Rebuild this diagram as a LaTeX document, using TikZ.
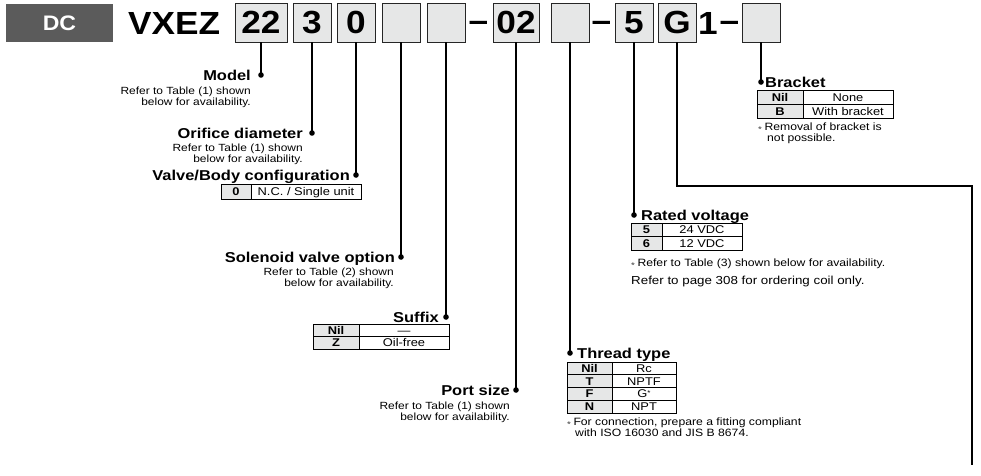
\documentclass[tikz,border=0pt]{standalone}
\usepackage{fontspec}
\setmainfont{Liberation Sans}[FakeStretch=1.15]
\newfontfamily\hdrfam{Liberation Sans}[FakeStretch=1.1]
\definecolor{cellgray}{HTML}{E6E7E7}
\definecolor{dcgray}{HTML}{5B5B5B}
\newcommand\hdrfont{\hdrfam\fontsize{32}{32}\selectfont\bfseries}
\newcommand\fnast{{\fontsize{8.5}{8.5}\selectfont\raisebox{-2.2pt}{\color{black!75}*}}\hspace{2.5pt}}
\newcommand\tabrow[8]{%
  \path[tline,fill=cellgray] (#2,#5) rectangle (#3,#6);
  \path[tline,fill=white] (#3,#5) rectangle (#4,#6);
  \node[keyt] (#1k) at ({(#2+#3)/2},{(#5+#6)/2}) {#7};
  \node[valt] (#1v) at ({(#3+#4)/2},{(#5+#6)/2}) {#8};
}
\begin{document}
\begin{tikzpicture}[x=1pt,y=-1pt,
  codebox/.style={draw=black!85, line width=0.9pt, fill=cellgray, minimum width=38pt,
    minimum height=39pt, inner sep=0pt, text height=22.9pt, text depth=0pt, font=\hdrfont},
  hdrtxt/.style={inner sep=0pt, font=\hdrfont},
  conn/.style={line width=1.2pt, draw=black},
  dotn/.style={circle, fill=black, inner sep=0pt, minimum size=5.6pt},
  lbl/.style={inner sep=0pt, font=\fontsize{14.3}{16}\selectfont\bfseries},
  subt/.style={inner sep=0pt, font=\fontsize{10.4}{11}\selectfont},
  fnt/.style={inner sep=0pt, font=\fontsize{10.6}{11}\selectfont},
  reft/.style={inner sep=0pt, font=\fontsize{11.6}{12}\selectfont},
  tline/.style={draw=black, line width=0.8pt},
  keyt/.style={inner sep=0pt, text height=8pt, text depth=0pt, font=\fontsize{11.2}{11}\selectfont\bfseries},
  valt/.style={inner sep=0pt, text height=8pt, text depth=0pt, font=\fontsize{11.2}{11}\selectfont}
]
\useasboundingbox (0,0) rectangle (981,475);

% ---------- header ----------
\node[fill=dcgray, minimum width=107pt, minimum height=38pt, inner sep=0pt, text=white,
  text height=15pt, text depth=0pt, font=\hdrfam\fontsize{21}{21}\selectfont\bfseries] (dc) at (59.5,23) {DC};
\node[hdrtxt, anchor=base west] (vxez) at (128,34) {VXEZ};
\node[codebox, minimum width=52pt] (b22) at (261,22.5) {22};
\node[codebox] (b3) at (312,22.5) {3};
\node[codebox] (b0) at (356,22.5) {0};
\node[codebox] (bA) at (401,22.5) {};
\node[codebox] (bB) at (446,22.5) {};
\node[hdrtxt, anchor=base] (dash1) at (478.5,31) {–};
\node[codebox, minimum width=46pt] (b02) at (516,22.5) {02};
\node[codebox] (bC) at (570,22.5) {};
\node[hdrtxt, anchor=base] (dash2) at (601.5,31) {–};
\node[codebox] (b5) at (634,22.5) {5};
\node[codebox] (bG) at (677,22.5) {G};
\node[hdrtxt, anchor=base west] (one) at (698,34) {1};
\node[hdrtxt, anchor=base] (dash3) at (729.5,31) {–};
\node[codebox] (bD) at (761,22.5) {};

% ---------- dots ----------
\node[dotn] (dModel) at (261,75) {};
\node[dotn] (dOrif) at (312,133) {};
\node[dotn] (dValve) at (356,175) {};
\node[dotn] (dSol) at (401,257) {};
\node[dotn] (dSuf) at (446,317) {};
\node[dotn] (dPort) at (516,390) {};
\node[dotn] (dThr) at (570,353) {};
\node[dotn] (dVolt) at (634,215) {};
\node[dotn] (dBrk) at (761,82) {};
\coordinate (gTurn) at (972,186);
\coordinate (gEnd) at (972,465);

% ---------- connectors ----------
\draw[conn] (b22.south) -- (dModel.center);
\draw[conn] (b3.south) -- (dOrif.center);
\draw[conn] (b0.south) -- (dValve.center);
\draw[conn] (bA.south) -- (dSol.center);
\draw[conn] (bB.south) -- (dSuf.center);
\draw[conn] (b02.south) -- (dPort.center);
\draw[conn] (bC.south) -- (dThr.center);
\draw[conn] (b5.south) -- (dVolt.center);
\draw[conn] (bD.south) -- (dBrk.center);
\draw[conn] (bG.south) |- (gTurn) -- (gEnd);

% ---------- Model ----------
\node[lbl, anchor=base east] (lModel) at (251,80) {Model};
\node[subt, anchor=base east] (sModelA) at (251,94) {Refer to Table (1) shown};
\node[subt, anchor=base east] (sModelB) at (251,105) {below for availability.};

% ---------- Orifice ----------
\node[lbl, anchor=base east] (lOrif) at (303,138) {Orifice diameter};
\node[subt, anchor=base east] (sOrifA) at (303,151.5) {Refer to Table (1) shown};
\node[subt, anchor=base east] (sOrifB) at (303,162.5) {below for availability.};

% ---------- Valve/Body ----------
\node[lbl, anchor=base east] (lValve) at (350,180) {Valve/Body configuration};
\tabrow{tV}{221}{251}{361}{184}{199}{0}{N.C. / Single unit}

% ---------- Solenoid ----------
\node[lbl, anchor=base east] (lSol) at (395,262) {Solenoid valve option};
\node[subt, anchor=base east] (sSolA) at (394,275.5) {Refer to Table (2) shown};
\node[subt, anchor=base east] (sSolB) at (394,286.5) {below for availability.};

% ---------- Suffix ----------
\node[lbl, anchor=base east] (lSuf) at (439,322) {Suffix};
\tabrow{tSa}{313}{359}{449}{324}{336.5}{Nil}{—}
\tabrow{tSb}{313}{359}{449}{336.5}{349}{Z}{Oil-free}

% ---------- Port size ----------
\node[lbl, anchor=base east] (lPort) at (510,395) {Port size};
\node[subt, anchor=base east] (sPortA) at (510,409) {Refer to Table (1) shown};
\node[subt, anchor=base east] (sPortB) at (510,420) {below for availability.};

% ---------- Thread type ----------
\node[lbl, anchor=base west] (lThr) at (577,358) {Thread type};
\tabrow{tTa}{567}{612}{676}{362}{374.75}{Nil}{Rc}
\tabrow{tTb}{567}{612}{676}{374.75}{387.5}{T}{NPTF}
\tabrow{tTc}{567}{612}{676}{387.5}{400.25}{F}{G\raisebox{2.8pt}{\fontsize{7}{7}\selectfont *}}
\tabrow{tTd}{567}{612}{676}{400.25}{413}{N}{NPT}
\node[fnt, anchor=base west] (fThrA) at (567,425) {\fnast For connection, prepare a fitting compliant};
\node[fnt, anchor=base west] (fThrB) at (575,436) {with ISO 16030 and JIS B 8674.};

% ---------- Rated voltage ----------
\node[lbl, anchor=base west] (lVolt) at (641,220) {Rated voltage};
\tabrow{tRa}{631}{662}{742}{223}{236.5}{5}{24 VDC}
\tabrow{tRb}{631}{662}{742}{236.5}{250}{6}{12 VDC}
\node[fnt, anchor=base west] (fVolt) at (631,266) {\fnast Refer to Table (3) shown below for availability.};
\node[reft, anchor=base west] (rVolt) at (631,284.5) {Refer to page 308 for ordering coil only.};

% ---------- Bracket ----------
\node[lbl, anchor=base west] (lBrk) at (765,87) {Bracket};
\tabrow{tBa}{757}{803}{893}{90}{104}{Nil}{None}
\tabrow{tBb}{757}{803}{893}{104}{118}{B}{With bracket}
\node[fnt, anchor=base west] (fBrkA) at (758,130) {\fnast Removal of bracket is};
\node[fnt, anchor=base west] (fBrkB) at (767,141) {not possible.};
\end{tikzpicture}
\end{document}
